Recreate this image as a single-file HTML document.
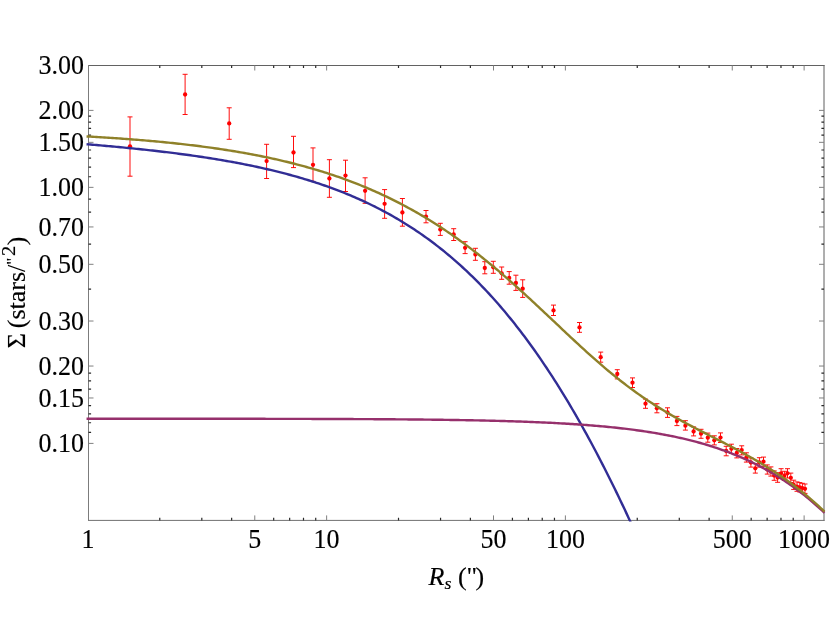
<!DOCTYPE html>
<html><head><meta charset="utf-8"><title>plot</title>
<style>
html,body{margin:0;padding:0;background:#fff;}
body{width:830px;height:623px;overflow:hidden;position:relative;font-family:"Liberation Serif",serif;}
svg{position:absolute;left:0;top:0;will-change:transform;}
text{font-family:"Liberation Serif",serif;fill:#000;stroke:#000;stroke-width:0.15px;}
</style></head><body>
<svg width="830" height="623" viewBox="0 0 830 623">
<rect x="0" y="0" width="830" height="623" fill="#ffffff"/>
<defs><clipPath id="c"><rect x="86.1" y="64.5" width="739.7" height="456.9"/></clipPath></defs>
<g stroke="#ff0000" stroke-width="0.95" fill="none">
<path d="M130.0,116.9V176.2M127.5,116.9H132.5M127.5,176.2H132.5"/>
<path d="M185.1,74.3V114.5M182.6,74.3H187.6M182.6,114.5H187.6"/>
<path d="M229.2,107.8V139.3M226.7,107.8H231.7M226.7,139.3H231.7"/>
<path d="M266.6,144.3V178.5M264.1,144.3H269.1M264.1,178.5H269.1"/>
<path d="M293.5,136.3V167.6M291.0,136.3H296.0M291.0,167.6H296.0"/>
<path d="M313.0,147.9V181.4M310.5,147.9H315.5M310.5,181.4H315.5"/>
<path d="M329.4,159.7V197.3M326.9,159.7H331.9M326.9,197.3H331.9"/>
<path d="M345.5,160.2V191.5M343.0,160.2H348.0M343.0,191.5H348.0"/>
<path d="M365.1,177.8V203.3M362.6,177.8H367.6M362.6,203.3H367.6"/>
<path d="M384.6,189.6V218.3M382.1,189.6H387.1M382.1,218.3H387.1"/>
<path d="M402.4,198.5V226.2M399.9,198.5H404.9M399.9,226.2H404.9"/>
<path d="M426.0,210.5V222.8M423.5,210.5H428.5M423.5,222.8H428.5"/>
<path d="M440.3,223.3V235.4M437.8,223.3H442.8M437.8,235.4H442.8"/>
<path d="M453.7,228.7V240.5M451.2,228.7H456.2M451.2,240.5H456.2"/>
<path d="M465.1,241.7V253.6M462.6,241.7H467.6M462.6,253.6H467.6"/>
<path d="M475.4,248.3V260.3M472.9,248.3H477.9M472.9,260.3H477.9"/>
<path d="M484.8,261.7V273.8M482.3,261.7H487.3M482.3,273.8H487.3"/>
<path d="M493.3,261.3V273.3M490.8,261.3H495.8M490.8,273.3H495.8"/>
<path d="M501.7,267.0V279.3M499.2,267.0H504.2M499.2,279.3H504.2"/>
<path d="M509.2,271.6V284.2M506.7,271.6H511.7M506.7,284.2H511.7"/>
<path d="M515.9,275.2V290.4M513.4,275.2H518.4M513.4,290.4H518.4"/>
<path d="M522.7,279.8V297.4M520.2,279.8H525.2M520.2,297.4H525.2"/>
<path d="M553.5,305.1V315.5M551.0,305.1H556.0M551.0,315.5H556.0"/>
<path d="M579.5,322.5V332.3M577.0,322.5H582.0M577.0,332.3H582.0"/>
<path d="M600.7,352.1V362.2M598.2,352.1H603.2M598.2,362.2H603.2"/>
<path d="M617.3,369.7V378.9M614.8,369.7H619.8M614.8,378.9H619.8"/>
<path d="M632.5,377.9V387.5M630.0,377.9H635.0M630.0,387.5H635.0"/>
<path d="M645.5,399.1V408.3M643.0,399.1H648.0M643.0,408.3H648.0"/>
<path d="M656.9,403.7V412.8M654.4,403.7H659.4M654.4,412.8H659.4"/>
<path d="M667.5,407.8V417.4M665.0,407.8H670.0M665.0,417.4H670.0"/>
<path d="M676.9,416.4V425.6M674.4,416.4H679.4M674.4,425.6H679.4"/>
<path d="M685.4,420.7V430.1M682.9,420.7H687.9M682.9,430.1H687.9"/>
<path d="M693.6,426.9V435.9M691.1,426.9H696.1M691.1,435.9H696.1"/>
<path d="M701.0,429.3V438.3M698.5,429.3H703.5M698.5,438.3H703.5"/>
<path d="M707.8,433.1V442.2M705.3,433.1H710.3M705.3,442.2H710.3"/>
<path d="M714.3,435.8V444.9M711.8,435.8H716.8M711.8,444.9H716.8"/>
<path d="M720.5,432.9V442.5M718.0,432.9H723.0M718.0,442.5H723.0"/>
<path d="M726.2,446.3V455.8M723.7,446.3H728.7M723.7,455.8H728.7"/>
<path d="M731.4,444.2V453.5M728.9,444.2H733.9M728.9,453.5H733.9"/>
<path d="M736.8,448.5V457.9M734.3,448.5H739.3M734.3,457.9H739.3"/>
<path d="M741.7,445.8V454.9M739.2,445.8H744.2M739.2,454.9H744.2"/>
<path d="M746.4,452.8V462.1M743.9,452.8H748.9M743.9,462.1H748.9"/>
<path d="M750.9,458.0V467.1M748.4,458.0H753.4M748.4,467.1H753.4"/>
<path d="M755.3,463.6V473.1M752.8,463.6H757.8M752.8,473.1H757.8"/>
<path d="M759.4,457.7V467.1M756.9,457.7H761.9M756.9,467.1H761.9"/>
<path d="M763.5,457.1V466.3M761.0,457.1H766.0M761.0,466.3H766.0"/>
<path d="M767.3,464.9V474.1M764.8,464.9H769.8M764.8,474.1H769.8"/>
<path d="M770.9,466.9V476.1M768.4,466.9H773.4M768.4,476.1H773.4"/>
<path d="M774.2,470.9V480.3M771.7,470.9H776.7M771.7,480.3H776.7"/>
<path d="M777.6,472.7V482.3M775.1,472.7H780.1M775.1,482.3H780.1"/>
<path d="M781.1,468.7V478.0M778.6,468.7H783.6M778.6,478.0H783.6"/>
<path d="M784.4,471.3V480.5M781.9,471.3H786.9M781.9,480.5H786.9"/>
<path d="M787.5,468.7V478.0M785.0,468.7H790.0M785.0,478.0H790.0"/>
<path d="M790.8,473.1V482.5M788.3,473.1H793.3M788.3,482.5H793.3"/>
<path d="M793.7,480.2V489.4M791.2,480.2H796.2M791.2,489.4H796.2"/>
<path d="M797.0,481.9V491.3M794.5,481.9H799.5M794.5,491.3H799.5"/>
<path d="M799.8,482.6V492.0M797.3,482.6H802.3M797.3,492.0H802.3"/>
<path d="M802.4,483.3V492.8M799.9,483.3H804.9M799.9,492.8H804.9"/>
<path d="M805.0,484.0V493.4M802.5,484.0H807.5M802.5,493.4H807.5"/>
</g><g fill="#ff0000">
<circle cx="130.0" cy="146.3" r="2.15"/>
<circle cx="185.1" cy="94.5" r="2.15"/>
<circle cx="229.2" cy="123.4" r="2.15"/>
<circle cx="266.6" cy="161.1" r="2.15"/>
<circle cx="293.5" cy="152.5" r="2.15"/>
<circle cx="313.0" cy="164.8" r="2.15"/>
<circle cx="329.4" cy="178.5" r="2.15"/>
<circle cx="345.5" cy="175.6" r="2.15"/>
<circle cx="365.1" cy="190.8" r="2.15"/>
<circle cx="384.6" cy="203.8" r="2.15"/>
<circle cx="402.4" cy="212.5" r="2.15"/>
<circle cx="426.0" cy="216.6" r="2.15"/>
<circle cx="440.3" cy="229.6" r="2.15"/>
<circle cx="453.7" cy="234.5" r="2.15"/>
<circle cx="465.1" cy="247.8" r="2.15"/>
<circle cx="475.4" cy="254.5" r="2.15"/>
<circle cx="484.8" cy="268.0" r="2.15"/>
<circle cx="493.3" cy="267.3" r="2.15"/>
<circle cx="501.7" cy="273.3" r="2.15"/>
<circle cx="509.2" cy="277.9" r="2.15"/>
<circle cx="515.9" cy="283.0" r="2.15"/>
<circle cx="522.7" cy="288.7" r="2.15"/>
<circle cx="553.5" cy="310.4" r="2.15"/>
<circle cx="579.5" cy="327.4" r="2.15"/>
<circle cx="600.7" cy="357.2" r="2.15"/>
<circle cx="617.3" cy="374.0" r="2.15"/>
<circle cx="632.5" cy="382.7" r="2.15"/>
<circle cx="645.5" cy="403.7" r="2.15"/>
<circle cx="656.9" cy="408.3" r="2.15"/>
<circle cx="667.5" cy="412.5" r="2.15"/>
<circle cx="676.9" cy="421.0" r="2.15"/>
<circle cx="685.4" cy="425.7" r="2.15"/>
<circle cx="693.6" cy="431.5" r="2.15"/>
<circle cx="701.0" cy="433.7" r="2.15"/>
<circle cx="707.8" cy="437.7" r="2.15"/>
<circle cx="714.3" cy="440.3" r="2.15"/>
<circle cx="720.5" cy="437.6" r="2.15"/>
<circle cx="726.2" cy="451.0" r="2.15"/>
<circle cx="731.4" cy="448.8" r="2.15"/>
<circle cx="736.8" cy="453.0" r="2.15"/>
<circle cx="741.7" cy="450.1" r="2.15"/>
<circle cx="746.4" cy="457.5" r="2.15"/>
<circle cx="750.9" cy="462.5" r="2.15"/>
<circle cx="755.3" cy="468.3" r="2.15"/>
<circle cx="759.4" cy="462.4" r="2.15"/>
<circle cx="763.5" cy="461.7" r="2.15"/>
<circle cx="767.3" cy="469.5" r="2.15"/>
<circle cx="770.9" cy="471.4" r="2.15"/>
<circle cx="774.2" cy="475.6" r="2.15"/>
<circle cx="777.6" cy="477.5" r="2.15"/>
<circle cx="781.1" cy="473.3" r="2.15"/>
<circle cx="784.4" cy="475.8" r="2.15"/>
<circle cx="787.5" cy="473.3" r="2.15"/>
<circle cx="790.8" cy="477.8" r="2.15"/>
<circle cx="793.7" cy="484.8" r="2.15"/>
<circle cx="797.0" cy="486.6" r="2.15"/>
<circle cx="799.8" cy="487.3" r="2.15"/>
<circle cx="802.4" cy="488.1" r="2.15"/>
<circle cx="805.0" cy="488.8" r="2.15"/>
</g>
<g fill="none" stroke-width="1" stroke-linecap="square">
<path d="M88.5,65.5H824.0" stroke="#626262"/>
<path d="M824.0,65.5V520.4" stroke="#5e5e5e"/>
<path d="M88.5,520.4H824.0" stroke="#707070"/>
<path d="M88.5,65.5V520.4" stroke="#7c7c7c"/>
</g>
<path d="M88.5,110.39h5.0M824.0,110.39h-5.0M88.5,142.33h5.0M824.0,142.33h-5.0M88.5,187.35h5.0M824.0,187.35h-5.0M88.5,226.95h5.0M824.0,226.95h-5.0M88.5,264.31h5.0M824.0,264.31h-5.0M88.5,321.02h5.0M824.0,321.02h-5.0M88.5,366.04h5.0M824.0,366.04h-5.0M88.5,397.98h5.0M824.0,397.98h-5.0M88.5,443.40h5.0M824.0,443.40h-5.0M254.77,520.4v-5.0M254.77,65.5v5.0M326.64,520.4v-5.0M326.64,65.5v5.0M493.51,520.4v-5.0M493.51,65.5v5.0M565.38,520.4v-5.0M565.38,65.5v5.0M732.25,520.4v-5.0M732.25,65.5v5.0M804.12,520.4v-5.0M804.12,65.5v5.0" stroke="#808080" stroke-width="1" fill="none"/>
<path d="M88.5,116.09h2.6M824.0,116.09h-2.6M88.5,122.09h2.6M824.0,122.09h-2.6M88.5,128.44h2.6M824.0,128.44h-2.6M88.5,135.17h2.6M824.0,135.17h-2.6M88.5,149.99h2.6M824.0,149.99h-2.6M88.5,158.22h2.6M824.0,158.22h-2.6M88.5,167.11h2.6M824.0,167.11h-2.6M88.5,176.77h2.6M824.0,176.77h-2.6M88.5,199.05h2.6M824.0,199.05h-2.6M88.5,212.13h2.6M824.0,212.13h-2.6M88.5,244.07h2.6M824.0,244.07h-2.6M88.5,289.08h2.6M824.0,289.08h-2.6M88.5,373.21h2.6M824.0,373.21h-2.6M88.5,380.87h2.6M824.0,380.87h-2.6M88.5,389.10h2.6M824.0,389.10h-2.6M88.5,405.64h2.6M824.0,405.64h-2.6M88.5,413.87h2.6M824.0,413.87h-2.6M88.5,422.76h2.6M824.0,422.76h-2.6M88.5,432.42h2.6M824.0,432.42h-2.6M159.77,520.4v-2.6M159.77,65.5v2.6M201.81,520.4v-2.6M201.81,65.5v2.6M231.64,520.4v-2.6M231.64,65.5v2.6M273.68,520.4v-2.6M273.68,65.5v2.6M289.66,520.4v-2.6M289.66,65.5v2.6M303.50,520.4v-2.6M303.50,65.5v2.6M315.72,520.4v-2.6M315.72,65.5v2.6M398.51,520.4v-2.6M398.51,65.5v2.6M440.55,520.4v-2.6M440.55,65.5v2.6M470.38,520.4v-2.6M470.38,65.5v2.6M512.42,520.4v-2.6M512.42,65.5v2.6M528.40,520.4v-2.6M528.40,65.5v2.6M542.24,520.4v-2.6M542.24,65.5v2.6M554.46,520.4v-2.6M554.46,65.5v2.6M637.25,520.4v-2.6M637.25,65.5v2.6M679.29,520.4v-2.6M679.29,65.5v2.6M709.12,520.4v-2.6M709.12,65.5v2.6M751.16,520.4v-2.6M751.16,65.5v2.6M767.14,520.4v-2.6M767.14,65.5v2.6M780.98,520.4v-2.6M780.98,65.5v2.6M793.20,520.4v-2.6M793.20,65.5v2.6" stroke="#2a2a2a" stroke-width="1.2" fill="none"/>
<g clip-path="url(#c)" fill="none" stroke-width="2.4" stroke-linejoin="round">
<path d="M86.5,144.24 L88.5,144.40 L90.5,144.57 L92.5,144.73 L94.5,144.90 L96.5,145.07 L98.5,145.24 L100.5,145.42 L102.5,145.59 L104.5,145.77 L106.5,145.94 L108.5,146.12 L110.5,146.30 L112.5,146.49 L114.5,146.67 L116.5,146.86 L118.5,147.05 L120.5,147.24 L122.5,147.43 L124.5,147.62 L126.5,147.82 L128.5,148.01 L130.5,148.21 L132.5,148.41 L134.5,148.62 L136.5,148.82 L138.5,149.03 L140.5,149.24 L142.5,149.45 L144.5,149.67 L146.5,149.88 L148.5,150.10 L150.5,150.32 L152.5,150.55 L154.5,150.77 L156.5,151.00 L158.5,151.23 L160.5,151.47 L162.5,151.70 L164.5,151.94 L166.5,152.18 L168.5,152.43 L170.5,152.67 L172.5,152.92 L174.5,153.18 L176.5,153.43 L178.5,153.69 L180.5,153.95 L182.5,154.22 L184.5,154.49 L186.5,154.76 L188.5,155.03 L190.5,155.31 L192.5,155.59 L194.5,155.88 L196.5,156.16 L198.5,156.46 L200.5,156.75 L202.5,157.05 L204.5,157.35 L206.5,157.66 L208.5,157.97 L210.5,158.29 L212.5,158.61 L214.5,158.93 L216.5,159.25 L218.5,159.59 L220.5,159.92 L222.5,160.26 L224.5,160.61 L226.5,160.95 L228.5,161.31 L230.5,161.67 L232.5,162.03 L234.5,162.40 L236.5,162.77 L238.5,163.15 L240.5,163.53 L242.5,163.92 L244.5,164.31 L246.5,164.71 L248.5,165.11 L250.5,165.52 L252.5,165.94 L254.5,166.36 L256.5,166.78 L258.5,167.22 L260.5,167.65 L262.5,168.10 L264.5,168.55 L266.5,169.01 L268.5,169.47 L270.5,169.94 L272.5,170.42 L274.5,170.90 L276.5,171.39 L278.5,171.89 L280.5,172.39 L282.5,172.90 L284.5,173.42 L286.5,173.95 L288.5,174.48 L290.5,175.02 L292.5,175.57 L294.5,176.12 L296.5,176.69 L298.5,177.26 L300.5,177.84 L302.5,178.43 L304.5,179.03 L306.5,179.64 L308.5,180.25 L310.5,180.87 L312.5,181.51 L314.5,182.15 L316.5,182.80 L318.5,183.46 L320.5,184.13 L322.5,184.81 L324.5,185.50 L326.5,186.20 L328.5,186.92 L330.5,187.64 L332.5,188.37 L334.5,189.11 L336.5,189.86 L338.5,190.63 L340.5,191.40 L342.5,192.19 L344.5,192.99 L346.5,193.80 L348.5,194.62 L350.5,195.45 L352.5,196.30 L354.5,197.16 L356.5,198.03 L358.5,198.91 L360.5,199.81 L362.5,200.71 L364.5,201.64 L366.5,202.57 L368.5,203.52 L370.5,204.49 L372.5,205.46 L374.5,206.45 L376.5,207.46 L378.5,208.48 L380.5,209.52 L382.5,210.57 L384.5,211.63 L386.5,212.71 L388.5,213.81 L390.5,214.92 L392.5,216.05 L394.5,217.19 L396.5,218.35 L398.5,219.53 L400.5,220.72 L402.5,221.93 L404.5,223.16 L406.5,224.41 L408.5,225.67 L410.5,226.95 L412.5,228.25 L414.5,229.57 L416.5,230.90 L418.5,232.26 L420.5,233.63 L422.5,235.02 L424.5,236.44 L426.5,237.87 L428.5,239.32 L430.5,240.79 L432.5,242.28 L434.5,243.79 L436.5,245.33 L438.5,246.88 L440.5,248.46 L442.5,250.05 L444.5,251.67 L446.5,253.31 L448.5,254.97 L450.5,256.66 L452.5,258.36 L454.5,260.09 L456.5,261.85 L458.5,263.62 L460.5,265.42 L462.5,267.24 L464.5,269.09 L466.5,270.96 L468.5,272.85 L470.5,274.77 L472.5,276.72 L474.5,278.69 L476.5,280.68 L478.5,282.70 L480.5,284.74 L482.5,286.81 L484.5,288.91 L486.5,291.03 L488.5,293.18 L490.5,295.36 L492.5,297.56 L494.5,299.79 L496.5,302.05 L498.5,304.33 L500.5,306.64 L502.5,308.98 L504.5,311.35 L506.5,313.74 L508.5,316.16 L510.5,318.62 L512.5,321.10 L514.5,323.61 L516.5,326.14 L518.5,328.71 L520.5,331.31 L522.5,333.93 L524.5,336.59 L526.5,339.27 L528.5,341.99 L530.5,344.73 L532.5,347.51 L534.5,350.31 L536.5,353.15 L538.5,356.01 L540.5,358.91 L542.5,361.84 L544.5,364.80 L546.5,367.79 L548.5,370.81 L550.5,373.86 L552.5,376.94 L554.5,380.05 L556.5,383.20 L558.5,386.38 L560.5,389.59 L562.5,392.83 L564.5,396.10 L566.5,399.40 L568.5,402.74 L570.5,406.11 L572.5,409.50 L574.5,412.94 L576.5,416.40 L578.5,419.89 L580.5,423.42 L582.5,426.98 L584.5,430.57 L586.5,434.20 L588.5,437.85 L590.5,441.54 L592.5,445.26 L594.5,449.01 L596.5,452.80 L598.5,456.61 L600.5,460.46 L602.5,464.34 L604.5,468.25 L606.5,472.19 L608.5,476.17 L610.5,480.18 L612.5,484.21 L614.5,488.29 L616.5,492.39 L618.5,496.52 L620.5,500.69 L622.5,504.88 L624.5,509.11 L626.5,513.37 L628.5,517.66 L630.5,521.98 L632.5,526.33 L634.5,530.71 L636.5,535.12 L638.5,539.56 L640.5,544.04 L642.5,548.54" stroke="#312d95"/>
<path d="M86.5,418.71 L88.5,418.71 L90.5,418.71 L92.5,418.71 L94.5,418.71 L96.5,418.71 L98.5,418.71 L100.5,418.71 L102.5,418.71 L104.5,418.71 L106.5,418.71 L108.5,418.71 L110.5,418.71 L112.5,418.71 L114.5,418.71 L116.5,418.72 L118.5,418.72 L120.5,418.72 L122.5,418.72 L124.5,418.72 L126.5,418.72 L128.5,418.72 L130.5,418.72 L132.5,418.72 L134.5,418.72 L136.5,418.72 L138.5,418.72 L140.5,418.72 L142.5,418.72 L144.5,418.72 L146.5,418.72 L148.5,418.73 L150.5,418.73 L152.5,418.73 L154.5,418.73 L156.5,418.73 L158.5,418.73 L160.5,418.73 L162.5,418.73 L164.5,418.73 L166.5,418.73 L168.5,418.73 L170.5,418.74 L172.5,418.74 L174.5,418.74 L176.5,418.74 L178.5,418.74 L180.5,418.74 L182.5,418.74 L184.5,418.74 L186.5,418.74 L188.5,418.75 L190.5,418.75 L192.5,418.75 L194.5,418.75 L196.5,418.75 L198.5,418.75 L200.5,418.75 L202.5,418.75 L204.5,418.76 L206.5,418.76 L208.5,418.76 L210.5,418.76 L212.5,418.76 L214.5,418.76 L216.5,418.77 L218.5,418.77 L220.5,418.77 L222.5,418.77 L224.5,418.77 L226.5,418.78 L228.5,418.78 L230.5,418.78 L232.5,418.78 L234.5,418.78 L236.5,418.79 L238.5,418.79 L240.5,418.79 L242.5,418.79 L244.5,418.80 L246.5,418.80 L248.5,418.80 L250.5,418.80 L252.5,418.81 L254.5,418.81 L256.5,418.81 L258.5,418.81 L260.5,418.82 L262.5,418.82 L264.5,418.82 L266.5,418.83 L268.5,418.83 L270.5,418.83 L272.5,418.84 L274.5,418.84 L276.5,418.84 L278.5,418.85 L280.5,418.85 L282.5,418.85 L284.5,418.86 L286.5,418.86 L288.5,418.87 L290.5,418.87 L292.5,418.88 L294.5,418.88 L296.5,418.88 L298.5,418.89 L300.5,418.89 L302.5,418.90 L304.5,418.90 L306.5,418.91 L308.5,418.91 L310.5,418.92 L312.5,418.93 L314.5,418.93 L316.5,418.94 L318.5,418.94 L320.5,418.95 L322.5,418.96 L324.5,418.96 L326.5,418.97 L328.5,418.98 L330.5,418.98 L332.5,418.99 L334.5,419.00 L336.5,419.00 L338.5,419.01 L340.5,419.02 L342.5,419.03 L344.5,419.04 L346.5,419.04 L348.5,419.05 L350.5,419.06 L352.5,419.07 L354.5,419.08 L356.5,419.09 L358.5,419.10 L360.5,419.11 L362.5,419.12 L364.5,419.13 L366.5,419.14 L368.5,419.15 L370.5,419.16 L372.5,419.17 L374.5,419.19 L376.5,419.20 L378.5,419.21 L380.5,419.22 L382.5,419.24 L384.5,419.25 L386.5,419.26 L388.5,419.28 L390.5,419.29 L392.5,419.31 L394.5,419.32 L396.5,419.34 L398.5,419.35 L400.5,419.37 L402.5,419.38 L404.5,419.40 L406.5,419.42 L408.5,419.44 L410.5,419.45 L412.5,419.47 L414.5,419.49 L416.5,419.51 L418.5,419.53 L420.5,419.55 L422.5,419.57 L424.5,419.59 L426.5,419.62 L428.5,419.64 L430.5,419.66 L432.5,419.69 L434.5,419.71 L436.5,419.74 L438.5,419.76 L440.5,419.79 L442.5,419.81 L444.5,419.84 L446.5,419.87 L448.5,419.90 L450.5,419.93 L452.5,419.96 L454.5,419.99 L456.5,420.02 L458.5,420.05 L460.5,420.09 L462.5,420.12 L464.5,420.15 L466.5,420.19 L468.5,420.23 L470.5,420.26 L472.5,420.30 L474.5,420.34 L476.5,420.38 L478.5,420.42 L480.5,420.47 L482.5,420.51 L484.5,420.55 L486.5,420.60 L488.5,420.65 L490.5,420.69 L492.5,420.74 L494.5,420.79 L496.5,420.84 L498.5,420.90 L500.5,420.95 L502.5,421.01 L504.5,421.06 L506.5,421.12 L508.5,421.18 L510.5,421.24 L512.5,421.30 L514.5,421.37 L516.5,421.43 L518.5,421.50 L520.5,421.57 L522.5,421.64 L524.5,421.71 L526.5,421.78 L528.5,421.86 L530.5,421.93 L532.5,422.01 L534.5,422.09 L536.5,422.18 L538.5,422.26 L540.5,422.35 L542.5,422.44 L544.5,422.53 L546.5,422.62 L548.5,422.72 L550.5,422.82 L552.5,422.92 L554.5,423.02 L556.5,423.12 L558.5,423.23 L560.5,423.34 L562.5,423.45 L564.5,423.57 L566.5,423.69 L568.5,423.81 L570.5,423.93 L572.5,424.06 L574.5,424.19 L576.5,424.32 L578.5,424.46 L580.5,424.60 L582.5,424.74 L584.5,424.89 L586.5,425.04 L588.5,425.19 L590.5,425.35 L592.5,425.51 L594.5,425.68 L596.5,425.85 L598.5,426.02 L600.5,426.20 L602.5,426.38 L604.5,426.56 L606.5,426.75 L608.5,426.95 L610.5,427.15 L612.5,427.35 L614.5,427.56 L616.5,427.77 L618.5,427.99 L620.5,428.21 L622.5,428.44 L624.5,428.68 L626.5,428.92 L628.5,429.16 L630.5,429.41 L632.5,429.67 L634.5,429.93 L636.5,430.20 L638.5,430.48 L640.5,430.76 L642.5,431.05 L644.5,431.35 L646.5,431.65 L648.5,431.96 L650.5,432.27 L652.5,432.60 L654.5,432.93 L656.5,433.27 L658.5,433.61 L660.5,433.97 L662.5,434.33 L664.5,434.70 L666.5,435.08 L668.5,435.47 L670.5,435.87 L672.5,436.28 L674.5,436.69 L676.5,437.12 L678.5,437.55 L680.5,438.00 L682.5,438.45 L684.5,438.92 L686.5,439.39 L688.5,439.88 L690.5,440.37 L692.5,440.88 L694.5,441.40 L696.5,441.93 L698.5,442.48 L700.5,443.03 L702.5,443.60 L704.5,444.18 L706.5,444.77 L708.5,445.38 L710.5,446.00 L712.5,446.63 L714.5,447.28 L716.5,447.94 L718.5,448.61 L720.5,449.30 L722.5,450.01 L724.5,450.73 L726.5,451.46 L728.5,452.21 L730.5,452.98 L732.5,453.76 L734.5,454.56 L736.5,455.38 L738.5,456.21 L740.5,457.06 L742.5,457.93 L744.5,458.82 L746.5,459.72 L748.5,460.65 L750.5,461.59 L752.5,462.55 L754.5,463.53 L756.5,464.54 L758.5,465.56 L760.5,466.60 L762.5,467.67 L764.5,468.75 L766.5,469.86 L768.5,470.99 L770.5,472.14 L772.5,473.31 L774.5,474.51 L776.5,475.73 L778.5,476.97 L780.5,478.24 L782.5,479.53 L784.5,480.84 L786.5,482.19 L788.5,483.55 L790.5,484.94 L792.5,486.36 L794.5,487.80 L796.5,489.27 L798.5,490.77 L800.5,492.30 L802.5,493.85 L804.5,495.43 L806.5,497.03 L808.5,498.67 L810.5,500.33 L812.5,502.03 L814.5,503.75 L816.5,505.50 L818.5,507.29 L820.5,509.10 L822.5,510.94 L824.5,512.82" stroke="#96306c"/>
<path d="M86.5,136.45 L88.5,136.56 L90.5,136.67 L92.5,136.78 L94.5,136.90 L96.5,137.02 L98.5,137.13 L100.5,137.25 L102.5,137.38 L104.5,137.50 L106.5,137.63 L108.5,137.75 L110.5,137.88 L112.5,138.01 L114.5,138.15 L116.5,138.28 L118.5,138.42 L120.5,138.56 L122.5,138.70 L124.5,138.85 L126.5,138.99 L128.5,139.14 L130.5,139.29 L132.5,139.45 L134.5,139.60 L136.5,139.76 L138.5,139.92 L140.5,140.08 L142.5,140.25 L144.5,140.42 L146.5,140.59 L148.5,140.76 L150.5,140.93 L152.5,141.11 L154.5,141.29 L156.5,141.48 L158.5,141.66 L160.5,141.85 L162.5,142.05 L164.5,142.24 L166.5,142.44 L168.5,142.64 L170.5,142.85 L172.5,143.05 L174.5,143.26 L176.5,143.48 L178.5,143.69 L180.5,143.91 L182.5,144.14 L184.5,144.36 L186.5,144.59 L188.5,144.83 L190.5,145.07 L192.5,145.31 L194.5,145.55 L196.5,145.80 L198.5,146.05 L200.5,146.31 L202.5,146.57 L204.5,146.83 L206.5,147.10 L208.5,147.37 L210.5,147.65 L212.5,147.93 L214.5,148.21 L216.5,148.50 L218.5,148.79 L220.5,149.09 L222.5,149.39 L224.5,149.69 L226.5,150.00 L228.5,150.32 L230.5,150.64 L232.5,150.96 L234.5,151.29 L236.5,151.63 L238.5,151.97 L240.5,152.31 L242.5,152.66 L244.5,153.01 L246.5,153.37 L248.5,153.74 L250.5,154.11 L252.5,154.48 L254.5,154.87 L256.5,155.25 L258.5,155.65 L260.5,156.04 L262.5,156.45 L264.5,156.86 L266.5,157.27 L268.5,157.70 L270.5,158.13 L272.5,158.56 L274.5,159.00 L276.5,159.45 L278.5,159.90 L280.5,160.36 L282.5,160.83 L284.5,161.30 L286.5,161.78 L288.5,162.27 L290.5,162.77 L292.5,163.27 L294.5,163.78 L296.5,164.29 L298.5,164.82 L300.5,165.35 L302.5,165.89 L304.5,166.43 L306.5,166.99 L308.5,167.55 L310.5,168.12 L312.5,168.69 L314.5,169.28 L316.5,169.87 L318.5,170.48 L320.5,171.09 L322.5,171.71 L324.5,172.34 L326.5,172.97 L328.5,173.62 L330.5,174.27 L332.5,174.94 L334.5,175.61 L336.5,176.29 L338.5,176.98 L340.5,177.69 L342.5,178.40 L344.5,179.12 L346.5,179.85 L348.5,180.59 L350.5,181.34 L352.5,182.10 L354.5,182.87 L356.5,183.65 L358.5,184.44 L360.5,185.24 L362.5,186.05 L364.5,186.88 L366.5,187.71 L368.5,188.56 L370.5,189.41 L372.5,190.28 L374.5,191.16 L376.5,192.05 L378.5,192.95 L380.5,193.86 L382.5,194.79 L384.5,195.72 L386.5,196.67 L388.5,197.63 L390.5,198.61 L392.5,199.59 L394.5,200.59 L396.5,201.60 L398.5,202.62 L400.5,203.66 L402.5,204.70 L404.5,205.77 L406.5,206.84 L408.5,207.93 L410.5,209.02 L412.5,210.14 L414.5,211.26 L416.5,212.40 L418.5,213.55 L420.5,214.72 L422.5,215.90 L424.5,217.09 L426.5,218.30 L428.5,219.52 L430.5,220.75 L432.5,222.00 L434.5,223.26 L436.5,224.54 L438.5,225.83 L440.5,227.13 L442.5,228.45 L444.5,229.78 L446.5,231.13 L448.5,232.49 L450.5,233.86 L452.5,235.25 L454.5,236.65 L456.5,238.07 L458.5,239.50 L460.5,240.94 L462.5,242.40 L464.5,243.87 L466.5,245.36 L468.5,246.86 L470.5,248.37 L472.5,249.90 L474.5,251.44 L476.5,252.99 L478.5,254.56 L480.5,256.14 L482.5,257.74 L484.5,259.35 L486.5,260.97 L488.5,262.60 L490.5,264.25 L492.5,265.90 L494.5,267.57 L496.5,269.26 L498.5,270.95 L500.5,272.66 L502.5,274.38 L504.5,276.11 L506.5,277.84 L508.5,279.60 L510.5,281.36 L512.5,283.13 L514.5,284.91 L516.5,286.70 L518.5,288.50 L520.5,290.31 L522.5,292.12 L524.5,293.95 L526.5,295.78 L528.5,297.62 L530.5,299.46 L532.5,301.31 L534.5,303.17 L536.5,305.04 L538.5,306.90 L540.5,308.78 L542.5,310.65 L544.5,312.53 L546.5,314.42 L548.5,316.30 L550.5,318.19 L552.5,320.08 L554.5,321.97 L556.5,323.85 L558.5,325.74 L560.5,327.63 L562.5,329.51 L564.5,331.40 L566.5,333.28 L568.5,335.15 L570.5,337.03 L572.5,338.89 L574.5,340.75 L576.5,342.61 L578.5,344.46 L580.5,346.30 L582.5,348.13 L584.5,349.96 L586.5,351.77 L588.5,353.58 L590.5,355.38 L592.5,357.16 L594.5,358.93 L596.5,360.69 L598.5,362.44 L600.5,364.18 L602.5,365.90 L604.5,367.60 L606.5,369.30 L608.5,370.98 L610.5,372.64 L612.5,374.28 L614.5,375.91 L616.5,377.53 L618.5,379.13 L620.5,380.71 L622.5,382.27 L624.5,383.82 L626.5,385.34 L628.5,386.85 L630.5,388.35 L632.5,389.82 L634.5,391.28 L636.5,392.72 L638.5,394.14 L640.5,395.54 L642.5,396.93 L644.5,398.29 L646.5,399.64 L648.5,400.98 L650.5,402.29 L652.5,403.59 L654.5,404.87 L656.5,406.14 L658.5,407.39 L660.5,408.63 L662.5,409.85 L664.5,411.05 L666.5,412.25 L668.5,413.42 L670.5,414.59 L672.5,415.74 L674.5,416.88 L676.5,418.01 L678.5,419.12 L680.5,420.23 L682.5,421.33 L684.5,422.41 L686.5,423.49 L688.5,424.56 L690.5,425.63 L692.5,426.68 L694.5,427.73 L696.5,428.78 L698.5,429.82 L700.5,430.85 L702.5,431.88 L704.5,432.91 L706.5,433.94 L708.5,434.96 L710.5,435.98 L712.5,437.01 L714.5,438.03 L716.5,439.05 L718.5,440.08 L720.5,441.11 L722.5,442.14 L724.5,443.17 L726.5,444.21 L728.5,445.25 L730.5,446.30 L732.5,447.35 L734.5,448.41 L736.5,449.48 L738.5,450.55 L740.5,451.63 L742.5,452.73 L744.5,453.83 L746.5,454.94 L748.5,456.06 L750.5,457.19 L752.5,458.33 L754.5,459.49 L756.5,460.66 L758.5,461.84 L760.5,463.03 L762.5,464.24 L764.5,465.47 L766.5,466.71 L768.5,467.96 L770.5,469.23 L772.5,470.52 L774.5,471.83 L776.5,473.15 L778.5,474.49 L780.5,475.85 L782.5,477.23 L784.5,478.63 L786.5,480.05 L788.5,481.49 L790.5,482.95 L792.5,484.44 L794.5,485.94 L796.5,487.47 L798.5,489.02 L800.5,490.60 L802.5,492.20 L804.5,493.82 L806.5,495.47 L808.5,497.15 L810.5,498.85 L812.5,500.58 L814.5,502.34 L816.5,504.12 L818.5,505.93 L820.5,507.78 L822.5,509.65 L824.5,511.55" stroke="#8f8129"/>
</g>
<g font-size="26">
<text transform="translate(84,74.1) scale(1,1.055)" text-anchor="end">3.00</text>
<text transform="translate(84,119.1) scale(1,1.055)" text-anchor="end">2.00</text>
<text transform="translate(84,151.0) scale(1,1.055)" text-anchor="end">1.50</text>
<text transform="translate(84,196.0) scale(1,1.055)" text-anchor="end">1.00</text>
<text transform="translate(84,235.7) scale(1,1.055)" text-anchor="end">0.70</text>
<text transform="translate(84,273.0) scale(1,1.055)" text-anchor="end">0.50</text>
<text transform="translate(84,329.7) scale(1,1.055)" text-anchor="end">0.30</text>
<text transform="translate(84,374.7) scale(1,1.055)" text-anchor="end">0.20</text>
<text transform="translate(84,406.7) scale(1,1.055)" text-anchor="end">0.15</text>
<text transform="translate(84,452.1) scale(1,1.055)" text-anchor="end">0.10</text>
<text transform="translate(87.9,548.0) scale(1,1.055)" text-anchor="middle">1</text>
<text transform="translate(254.8,548.0) scale(1,1.055)" text-anchor="middle">5</text>
<text transform="translate(326.6,548.0) scale(1,1.055)" text-anchor="middle">10</text>
<text transform="translate(493.5,548.0) scale(1,1.055)" text-anchor="middle">50</text>
<text transform="translate(565.4,548.0) scale(1,1.055)" text-anchor="middle">100</text>
<text transform="translate(732.3,548.0) scale(1,1.055)" text-anchor="middle">500</text>
<text transform="translate(804.1,548.0) scale(1,1.055)" text-anchor="middle">1000</text>
<text transform="translate(428.5,584.7) scale(1,0.95)"><tspan font-style="italic">R</tspan><tspan font-style="italic" font-size="18" dy="5">s</tspan><tspan dy="-5"> (&quot;</tspan><tspan dx="-1.6">)</tspan></text>
<text transform="translate(25.4,348.3) rotate(-90) scale(1,0.95)">&#931;<tspan dx="-1.6"> (stars/</tspan><tspan font-size="17" dy="-7.6">&quot;</tspan><tspan font-size="20.5" dy="-3.6" dx="1.8">2</tspan><tspan dy="11.2" dx="0.6">)</tspan></text>
</g>
</svg></body></html>
